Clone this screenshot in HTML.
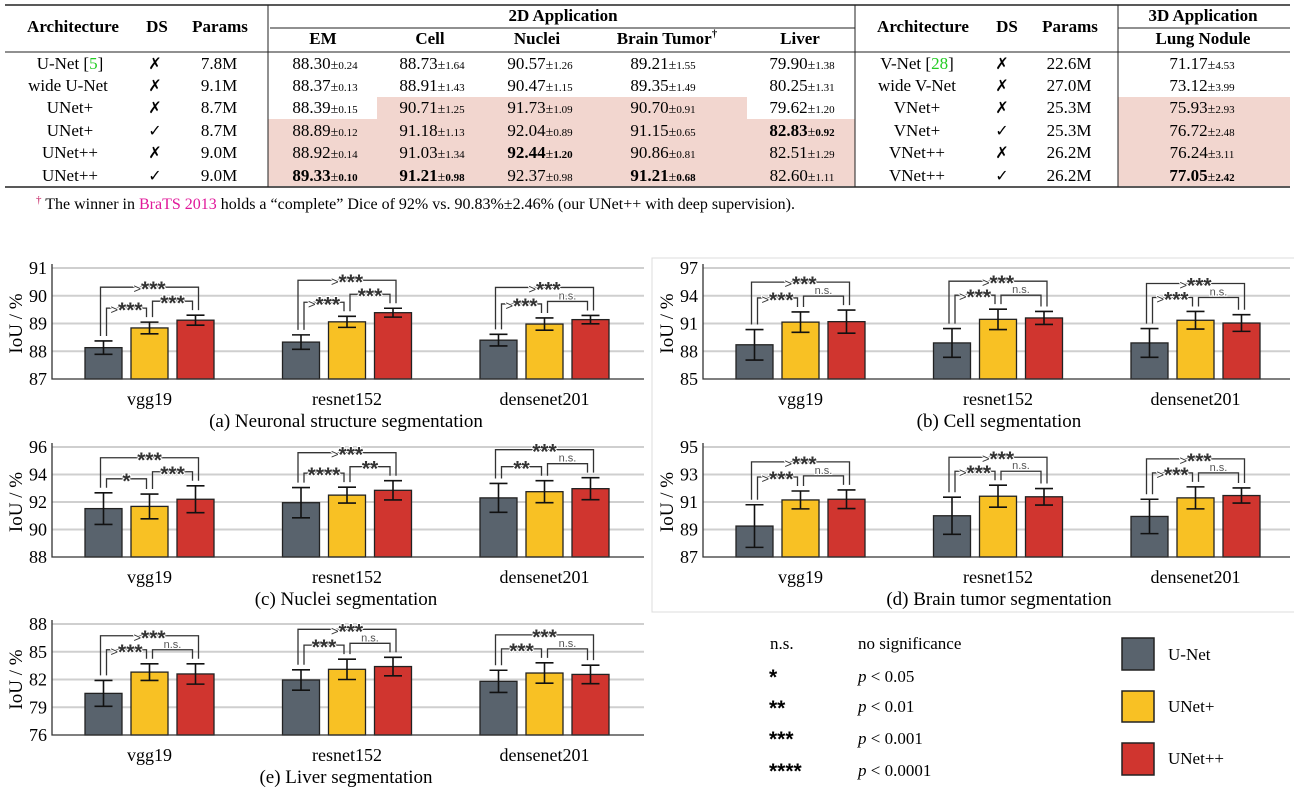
<!DOCTYPE html>
<html><head><meta charset="utf-8"><style>
html,body{margin:0;padding:0;background:#fff;}
svg{display:block;font-family:"Liberation Serif",serif;}
.th{font-weight:bold;font-size:17px;}
.td{font-size:17px;}
.pm{font-size:14px;}
.sm{font-size:11px;}
.ck{font-family:"DejaVu Sans",sans-serif;font-size:16px;font-weight:bold;}
</style></head><body>
<svg id="fig" width="1294" height="787" viewBox="0 0 1294 787" xmlns="http://www.w3.org/2000/svg">
<g>
<rect x="377" y="97" width="370" height="22" fill="#f2d6cf"/>
<rect x="268" y="119" width="587" height="67" fill="#f2d6cf"/>
<rect x="1118" y="97" width="172" height="89" fill="#f2d6cf"/>
<line x1="5" y1="5" x2="1290" y2="5" stroke="#222" stroke-width="1.5"/>
<line x1="270" y1="28" x2="855" y2="28" stroke="#222" stroke-width="1"/>
<line x1="1118" y1="28" x2="1290" y2="28" stroke="#222" stroke-width="1"/>
<line x1="5" y1="52" x2="1290" y2="52" stroke="#222" stroke-width="1"/>
<line x1="5" y1="187" x2="1290" y2="187" stroke="#222" stroke-width="1.5"/>
<line x1="268" y1="5" x2="268" y2="187" stroke="#222" stroke-width="1"/>
<line x1="855" y1="5" x2="855" y2="187" stroke="#222" stroke-width="1"/>
<line x1="1118" y1="5" x2="1118" y2="187" stroke="#222" stroke-width="1"/>
<g text-anchor="middle">
<text class="th" x="73" y="32">Architecture</text>
<text class="th" x="157" y="32">DS</text>
<text class="th" x="220" y="32">Params</text>
<text class="th" x="563" y="21">2D Application</text>
<text class="th" x="323" y="44">EM</text>
<text class="th" x="430" y="44">Cell</text>
<text class="th" x="537" y="44">Nuclei</text>
<text class="th" x="667" y="44">Brain Tumor<tspan font-size="11" dy="-7">†</tspan></text>
<text class="th" x="800" y="44">Liver</text>
<text class="th" x="923" y="32">Architecture</text>
<text class="th" x="1007" y="32">DS</text>
<text class="th" x="1070" y="32">Params</text>
<text class="th" x="1203" y="21">3D Application</text>
<text class="th" x="1203" y="44">Lung Nodule</text>

<g class="td">
<text x="70" y="69">U-Net [<tspan fill="#22cc22">5</tspan>]</text>
<text x="68" y="91">wide U-Net</text>
<text x="70" y="113">UNet+</text>
<text x="70" y="136">UNet+</text>
<text x="70" y="158">UNet++</text>
<text x="70" y="181">UNet++</text>
<text x="219" y="69">7.8M</text><text x="219" y="91">9.1M</text><text x="219" y="113">8.7M</text><text x="219" y="136">8.7M</text><text x="219" y="158">9.0M</text><text x="219" y="181">9.0M</text>
<text x="917" y="69">V-Net [<tspan fill="#22cc22">28</tspan>]</text>
<text x="917" y="91">wide V-Net</text>
<text x="917" y="113">VNet+</text>
<text x="917" y="136">VNet+</text>
<text x="917" y="158">VNet++</text>
<text x="917" y="181">VNet++</text>
<text x="1069" y="69">22.6M</text><text x="1069" y="91">27.0M</text><text x="1069" y="113">25.3M</text><text x="1069" y="136">25.3M</text><text x="1069" y="158">26.2M</text><text x="1069" y="181">26.2M</text>
</g>
<g class="ck">
<text x="155" y="69">✗</text><text x="155" y="91">✗</text><text x="155" y="113">✗</text><text x="155" y="136">✓</text><text x="155" y="158">✗</text><text x="155" y="181">✓</text>
<text x="1002" y="69">✗</text><text x="1002" y="91">✗</text><text x="1002" y="113">✗</text><text x="1002" y="136">✓</text><text x="1002" y="158">✗</text><text x="1002" y="181">✓</text>
</g>
<g class="td">
<text x="325" y="69">88.30<tspan class="pm">±</tspan><tspan class="sm">0.24</tspan></text>
<text x="325" y="91">88.37<tspan class="pm">±</tspan><tspan class="sm">0.13</tspan></text>
<text x="325" y="113">88.39<tspan class="pm">±</tspan><tspan class="sm">0.15</tspan></text>
<text x="325" y="136">88.89<tspan class="pm">±</tspan><tspan class="sm">0.12</tspan></text>
<text x="325" y="158">88.92<tspan class="pm">±</tspan><tspan class="sm">0.14</tspan></text>
<text x="325" y="181" font-weight="bold">89.33<tspan class="pm" font-weight="normal">±</tspan><tspan class="sm">0.10</tspan></text>
<text x="432" y="69">88.73<tspan class="pm">±</tspan><tspan class="sm">1.64</tspan></text>
<text x="432" y="91">88.91<tspan class="pm">±</tspan><tspan class="sm">1.43</tspan></text>
<text x="432" y="113">90.71<tspan class="pm">±</tspan><tspan class="sm">1.25</tspan></text>
<text x="432" y="136">91.18<tspan class="pm">±</tspan><tspan class="sm">1.13</tspan></text>
<text x="432" y="158">91.03<tspan class="pm">±</tspan><tspan class="sm">1.34</tspan></text>
<text x="432" y="181" font-weight="bold">91.21<tspan class="pm" font-weight="normal">±</tspan><tspan class="sm">0.98</tspan></text>
<text x="540" y="69">90.57<tspan class="pm">±</tspan><tspan class="sm">1.26</tspan></text>
<text x="540" y="91">90.47<tspan class="pm">±</tspan><tspan class="sm">1.15</tspan></text>
<text x="540" y="113">91.73<tspan class="pm">±</tspan><tspan class="sm">1.09</tspan></text>
<text x="540" y="136">92.04<tspan class="pm">±</tspan><tspan class="sm">0.89</tspan></text>
<text x="540" y="158" font-weight="bold">92.44<tspan class="pm" font-weight="normal">±</tspan><tspan class="sm">1.20</tspan></text>
<text x="540" y="181">92.37<tspan class="pm">±</tspan><tspan class="sm">0.98</tspan></text>
<text x="663" y="69">89.21<tspan class="pm">±</tspan><tspan class="sm">1.55</tspan></text>
<text x="663" y="91">89.35<tspan class="pm">±</tspan><tspan class="sm">1.49</tspan></text>
<text x="663" y="113">90.70<tspan class="pm">±</tspan><tspan class="sm">0.91</tspan></text>
<text x="663" y="136">91.15<tspan class="pm">±</tspan><tspan class="sm">0.65</tspan></text>
<text x="663" y="158">90.86<tspan class="pm">±</tspan><tspan class="sm">0.81</tspan></text>
<text x="663" y="181" font-weight="bold">91.21<tspan class="pm" font-weight="normal">±</tspan><tspan class="sm">0.68</tspan></text>
<text x="802" y="69">79.90<tspan class="pm">±</tspan><tspan class="sm">1.38</tspan></text>
<text x="802" y="91">80.25<tspan class="pm">±</tspan><tspan class="sm">1.31</tspan></text>
<text x="802" y="113">79.62<tspan class="pm">±</tspan><tspan class="sm">1.20</tspan></text>
<text x="802" y="136" font-weight="bold">82.83<tspan class="pm" font-weight="normal">±</tspan><tspan class="sm">0.92</tspan></text>
<text x="802" y="158">82.51<tspan class="pm">±</tspan><tspan class="sm">1.29</tspan></text>
<text x="802" y="181">82.60<tspan class="pm">±</tspan><tspan class="sm">1.11</tspan></text>
<text x="1202" y="69">71.17<tspan class="pm">±</tspan><tspan class="sm">4.53</tspan></text>
<text x="1202" y="91">73.12<tspan class="pm">±</tspan><tspan class="sm">3.99</tspan></text>
<text x="1202" y="113">75.93<tspan class="pm">±</tspan><tspan class="sm">2.93</tspan></text>
<text x="1202" y="136">76.72<tspan class="pm">±</tspan><tspan class="sm">2.48</tspan></text>
<text x="1202" y="158">76.24<tspan class="pm">±</tspan><tspan class="sm">3.11</tspan></text>
<text x="1202" y="181" font-weight="bold">77.05<tspan class="pm" font-weight="normal">±</tspan><tspan class="sm">2.42</tspan></text>
</g>
</g>
<text x="36" y="209" font-size="16"><tspan font-size="11" dy="-6" fill="#c2185b">†</tspan><tspan dy="6"> The winner in </tspan><tspan fill="#e0189a">BraTS 2013</tspan> holds a “complete” Dice of 92% vs. 90.83%±2.46% (our UNet++ with deep supervision).</text>
</g>

<rect x="652" y="258" width="645" height="354" fill="none" stroke="#dcdcdc" stroke-width="1"/>
<g id="charts"></g>

<g font-size="17">
<text x="770" y="649">n.s.</text><text x="858" y="649">no significance</text>
<text x="769" y="684" font-family="Liberation Sans" font-weight="bold" font-size="21">*</text><text x="858" y="682"><tspan font-style="italic">p</tspan> &lt; 0.05</text>
<text x="769" y="715" font-family="Liberation Sans" font-weight="bold" font-size="21">**</text><text x="858" y="712"><tspan font-style="italic">p</tspan> &lt; 0.01</text>
<text x="769" y="746" font-family="Liberation Sans" font-weight="bold" font-size="21">***</text><text x="858" y="744"><tspan font-style="italic">p</tspan> &lt; 0.001</text>
<text x="769" y="778" font-family="Liberation Sans" font-weight="bold" font-size="21">****</text><text x="858" y="776"><tspan font-style="italic">p</tspan> &lt; 0.0001</text>
</g>
<g font-size="17">
<rect x="1122" y="638" width="32" height="32" fill="#59636d" stroke="#222" stroke-width="1.5"/>
<text x="1168" y="660">U-Net</text>
<rect x="1122" y="691" width="32" height="31" fill="#f8c124" stroke="#222" stroke-width="1.5"/>
<text x="1168" y="712">UNet+</text>
<rect x="1122" y="743" width="32" height="32" fill="#d0352f" stroke="#222" stroke-width="1.5"/>
<text x="1168" y="764">UNet++</text>
</g>
</svg>
<script>
const categories = ["vgg19", "resnet152", "densenet201"];
const seriesNames = ["U-Net", "UNet+", "UNet++"];
// (a) EM
const emUNet = [88.13, 88.33, 88.40];
const emUNetErr = [0.24, 0.26, 0.21];
const emUNetP = [88.84, 89.06, 88.98];
const emUNetPErr = [0.21, 0.2, 0.22];
const emUNetPP = [89.12, 89.39, 89.14];
const emUNetPPErr = [0.18, 0.16, 0.15];
const emTicks = [87, 88, 89, 90, 91];
const emSig = [[">***", "***", ">***"], [">***", "***", ">***"], [">***", "n.s.", ">***"]];
// (b) Cell
const cellUNet = [88.7, 88.9, 88.9];
const cellUNetErr = [1.65, 1.55, 1.55];
const cellUNetP = [91.15, 91.45, 91.35];
const cellUNetPErr = [1.1, 1.1, 0.95];
const cellUNetPP = [91.2, 91.6, 91.05];
const cellUNetPPErr = [1.25, 0.7, 0.9];
const cellTicks = [85, 88, 91, 94, 97];
const cellSig = [[">***", "n.s.", ">***"], [">***", "n.s.", ">***"], [">***", "n.s.", ">***"]];
// (c) Nuclei
const nucUNet = [91.52, 91.95, 92.3];
const nucUNetErr = [1.15, 1.1, 1.05];
const nucUNetP = [91.68, 92.5, 92.75];
const nucUNetPErr = [0.9, 0.58, 0.8];
const nucUNetPP = [92.2, 92.85, 92.97];
const nucUNetPPErr = [0.98, 0.7, 0.8];
const nucTicks = [88, 90, 92, 94, 96];
const nucSig = [["*", "***", "***"], ["****", "**", ">***"], ["**", "n.s.", "***"]];
// (d) Brain tumor
const brainUNet = [89.25, 90.0, 89.95];
const brainUNetErr = [1.55, 1.35, 1.25];
const brainUNetP = [91.15, 91.42, 91.3];
const brainUNetPErr = [0.65, 0.8, 0.8];
const brainUNetPP = [91.2, 91.38, 91.47];
const brainUNetPPErr = [0.68, 0.6, 0.55];
const brainTicks = [87, 89, 91, 93, 95];
const brainSig = [[">***", "n.s.", ">***"], [">***", "n.s.", ">***"], [">***", "n.s.", ">***"]];
// (e) Liver
const liverUNet = [80.5, 81.95, 81.8];
const liverUNetErr = [1.4, 1.1, 1.2];
const liverUNetP = [82.8, 83.1, 82.7];
const liverUNetPErr = [0.9, 1.1, 1.1];
const liverUNetPP = [82.6, 83.4, 82.55];
const liverUNetPPErr = [1.1, 1.0, 1.0];
const liverTicks = [76, 79, 82, 85, 88];
const liverSig = [[">***", "n.s.", ">***"], ["***", "n.s.", ">***"], ["***", "n.s.", "***"]];

const NS = "http://www.w3.org/2000/svg";
const colors = ["#59636d", "#f8c124", "#d0352f"];
const root = document.getElementById("charts");

function mk(tag, attrs, parent) {
  const e = document.createElementNS(NS, tag);
  for (const k in attrs) e.setAttribute(k, attrs[k]);
  parent.appendChild(e);
  return e;
}

function drawPanel(id, caption, ax, means, errs, ticks, sig) {
  const g = mk("g", {}, root);
  
  
  const yMin = ticks[0], yMax = ticks[ticks.length - 1];
  const y = v => ax.bottom - (v - yMin) / (yMax - yMin) * (ax.bottom - ax.top);
  const groupX = i => ax.x + 33 + i * 197.5;
  ticks.forEach(t => {
    if (t !== yMin) {
      const gl = mk("line", {x1: ax.x, x2: ax.right, y1: y(t), y2: y(t), stroke: "#cfcfcf", "stroke-width": 2}, g);
      
      
    }
    const tl = mk("text", {x: ax.x - 5, y: y(t) + 6, "text-anchor": "end", "font-size": 18}, g);
    tl.textContent = t;
    
    
  });
  const yl = mk("text", {x: 0, y: 0, "text-anchor": "middle", "font-size": 19,
    transform: `translate(${ax.x - 30},${(ax.top + ax.bottom) / 2}) rotate(-90)`}, g);
  yl.textContent = "IoU / %";
  
  
  categories.forEach((c, i) => {
    const gx = groupX(i);
    const tops = [];
    for (let s = 0; s < 3; s++) {
      const bx = gx + s * 46;
      const v = means[s][i], e = errs[s][i];
      const b = mk("rect", {x: bx, y: y(v), width: 37, height: ax.bottom - y(v), fill: colors[s], stroke: "#222", "stroke-width": 1.3}, g);
      
      
      const cx = bx + 18.5;
      const eb = mk("path", {d: `M${cx},${y(v + e)}V${y(v - e)}M${cx - 9},${y(v + e)}H${cx + 9}M${cx - 9},${y(v - e)}H${cx + 9}`, stroke: "#111", "stroke-width": 1.6, fill: "none"}, g);
      
      
      tops.push({cx: cx, ty: y(v + e)});
    }
    const b12 = Math.min(tops[0].ty, tops[1].ty) - 14;
    const b23 = Math.min(tops[1].ty, tops[2].ty) - 14;
    const b13 = Math.min(b12, b23) - 14;
    const br = [
      [tops[0].cx + 3, tops[1].cx - 3, b12, tops[0].ty - 5, tops[1].ty - 5, sig[i][0]],
      [tops[1].cx + 3, tops[2].cx - 3, b23, tops[1].ty - 5, tops[2].ty - 5, sig[i][1]],
      [tops[0].cx - 3, tops[2].cx + 3, b13, tops[0].ty - 5, tops[2].ty - 5, sig[i][2]]
    ];
    br.forEach(([x1, x2, by, l1, l2, lab]) => {
      const p = mk("path", {d: `M${x1},${l1}V${by}H${x2}V${l2}`, stroke: "#333", "stroke-width": 1.3, fill: "none"}, g);
      
      
      const ns = lab === "n.s.";
      const t = mk("text", {x: (x1 + x2) / 2, y: ns ? by - 2 : by + 9, "text-anchor": "middle",
        "font-family": "Liberation Sans, sans-serif",
        "font-size": ns ? 11 : 21, "font-weight": ns ? "normal" : "bold", fill: ns ? "#555" : "#333",
        stroke: "#fff", "stroke-width": 2, "paint-order": "stroke"}, g);
      if (!ns && lab[0] === ">") {
        const gt = mk("tspan", {"font-size": 13, "font-weight": "normal", dy: -3}, t);
        gt.textContent = ">";
        const st = mk("tspan", {dy: 3}, t);
        st.textContent = lab.slice(1);
      } else {
        t.textContent = lab;
      }
      
      
    });
    const cl = mk("text", {x: gx + 64.5, y: ax.bottom + 26, "text-anchor": "middle", "font-size": 18}, g);
    cl.textContent = c;
    
    
  });
  const axl = mk("path", {d: `M${ax.x},${ax.top - 4}V${ax.bottom}H${ax.right}`, stroke: "#333", "stroke-width": 1.3, fill: "none"}, g);
  
  
  const cap = mk("text", {x: ax.capX, y: ax.bottom + 48, "text-anchor": "middle", "font-size": 19}, g);
  cap.textContent = caption;
  
  
}

drawPanel("em", "(a) Neuronal structure segmentation", {x: 52, right: 644, top: 268, bottom: 379, capX: 346},
  [emUNet, emUNetP, emUNetPP], [emUNetErr, emUNetPErr, emUNetPPErr], emTicks, emSig);
drawPanel("cell", "(b) Cell segmentation", {x: 703, right: 1290, top: 268, bottom: 379, capX: 999},
  [cellUNet, cellUNetP, cellUNetPP], [cellUNetErr, cellUNetPErr, cellUNetPPErr], cellTicks, cellSig);
drawPanel("nuclei", "(c) Nuclei segmentation", {x: 52, right: 644, top: 447, bottom: 557, capX: 346},
  [nucUNet, nucUNetP, nucUNetPP], [nucUNetErr, nucUNetPErr, nucUNetPPErr], nucTicks, nucSig);
drawPanel("brain", "(d) Brain tumor segmentation", {x: 703, right: 1290, top: 447, bottom: 557, capX: 999},
  [brainUNet, brainUNetP, brainUNetPP], [brainUNetErr, brainUNetPErr, brainUNetPPErr], brainTicks, brainSig);
drawPanel("liver", "(e) Liver segmentation", {x: 52, right: 644, top: 624, bottom: 735, capX: 346},
  [liverUNet, liverUNetP, liverUNetPP], [liverUNetErr, liverUNetPErr, liverUNetPPErr], liverTicks, liverSig);
</script>
</body></html>
